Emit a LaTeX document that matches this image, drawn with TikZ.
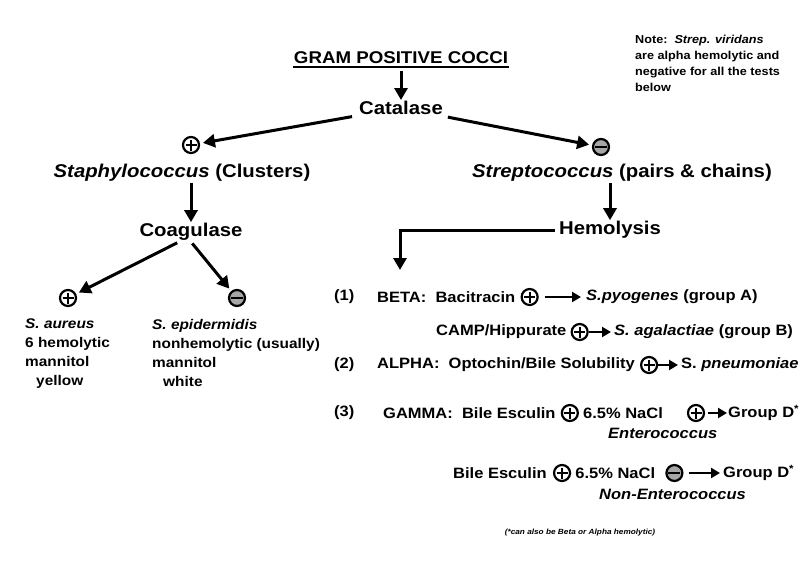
\documentclass[tikz,border=0pt]{standalone}
\usepackage{fontspec}
\setmainfont{Liberation Sans}[FakeStretch=1.1]
\usetikzlibrary{arrows.meta, positioning, calc}

\begin{document}
\begin{tikzpicture}[x=1pt,y=-1pt,
  bigtxt/.style={font=\bfseries\fontsize{18.5}{22}\selectfont,inner sep=1pt},
  midtxt/.style={font=\bfseries\fontsize{14}{19}\selectfont,inner sep=1pt},
  rowtxt/.style={font=\bfseries\fontsize{15}{19}\selectfont,inner sep=1pt,anchor=west},
  plusc/.style={circle,draw,line width=2.2pt,minimum size=16pt,inner sep=0pt,
    path picture={\draw[line width=1.8pt]
      ([xshift=-5.5pt]path picture bounding box.center) -- ([xshift=5.5pt]path picture bounding box.center)
      ([yshift=-5.5pt]path picture bounding box.center) -- ([yshift=5.5pt]path picture bounding box.center);}},
  minusc/.style={circle,draw,fill=black!35,line width=2.2pt,minimum size=16pt,inner sep=0pt,
    path picture={\draw[line width=2.8pt]
      ([xshift=-6pt]path picture bounding box.center) -- ([xshift=6pt]path picture bounding box.center);}},
  arr/.style={line width=3pt,-{Triangle[length=12pt,width=13pt]}},
  sarr/.style={line width=2.4pt,-{Triangle[length=9pt,width=10pt]}}]
  \useasboundingbox[fill=white] (0,0) rectangle (807,579);
  % top of the tree
  \node[bigtxt,font=\bfseries\fontsize{17}{20}\selectfont] (gpc) at (401,58) {GRAM POSITIVE COCCI};
  \draw[line width=1.8pt] ([yshift=-3.5pt]gpc.base west) -- ([yshift=-3.5pt]gpc.base east);
  \node[bigtxt] (cat) at (401,108) {Catalase};
  \draw[arr] ([yshift=-6pt]gpc.south) -- (cat.north);
  \node[plusc] (staphpos) at (191,145) {};
  \node[minusc] (streptneg) at (601,147) {};
  \draw[arr,shorten <=6pt,shorten >=3pt] (cat) -- (staphpos);
  \draw[arr,shorten <=6pt,shorten >=3pt] (cat) -- (streptneg);
  \node[bigtxt] (staph) at (182,173) {\textit{Staphylococcus} (Clusters)};
  \node[bigtxt] (strept) at (622,173) {\textit{Streptococcus} (pairs \& chains)};
  % left branch
  \node[bigtxt] (coag) at (191,232) {Coagulase};
  \draw[arr] (coag.north |- staph.south) -- (coag.north);
  \node[plusc] (aurpos) at (68,298) {};
  \node[minusc] (epineg) at (237,298) {};
  \draw[arr,shorten <=2pt,shorten >=3pt] ([xshift=-12pt]coag.south) -- (aurpos);
  \draw[arr,shorten <=2pt,shorten >=3pt] (coag.south) -- (epineg);
  \node[midtxt,anchor=north west,align=left] (aur) at (24,318)
    {\textit{S. aureus}\\6 hemolytic\\mannitol\\\hspace*{11pt}yellow};
  \node[midtxt,anchor=north west,align=left] (epi) at (151,318)
    {\textit{S. epidermidis}\\nonhemolytic (usually)\\mannitol\\\hspace*{11pt}white};
  % right branch
  \node[bigtxt] (hemo) at (610,230) {Hemolysis};
  \draw[arr] (hemo.north |- strept.south) -- (hemo.north);
  \coordinate (hbend) at (400,230);
  \coordinate (hend) at (400,270);
  \draw[arr,shorten <=3pt] (hemo.west) -- (hbend) -- (hend);
  % (1) beta
  \node[rowtxt] (n1) at (333,297) {(1)};
  \node[rowtxt] (beta) at (376,297) {BETA:\ \ Bacitracin};
  \node[plusc,right=4pt of beta] (bacpos) {};
  \node[rowtxt] (pyog) at (585,297) {\textit{S.pyogenes} (group A)};
  \draw[sarr,shorten <=6pt,shorten >=4pt] (bacpos) -- (pyog);
  \node[rowtxt] (camp) at (435,332) {CAMP/Hippurate};
  \node[plusc,right=3pt of camp] (camppos) {};
  \node[rowtxt] (agal) at (613,332) {\textit{S. agalactiae} (group B)};
  \draw[sarr,shorten >=2pt] (camppos) -- (agal);
  % (2) alpha
  \node[rowtxt] (n2) at (333,365) {(2)};
  \node[rowtxt] (alpha) at (376,365) {ALPHA:\ \ Optochin/Bile Solubility};
  \node[plusc,right=4pt of alpha] (optpos) {};
  \node[rowtxt] (pneu) at (680,365) {S. \textit{pneumoniae}};
  \draw[sarr,shorten >=2pt] (optpos) -- (pneu);
  % (3) gamma
  \node[rowtxt] (n3) at (333,413) {(3)};
  \node[rowtxt] (gamma) at (382,413) {GAMMA:\ \ Bile Esculin};
  \node[plusc,right=4pt of gamma] (bepos) {};
  \node[rowtxt,right=3pt of bepos] (nacl) {6.5\% NaCl};
  \node[plusc] (naclpos) at (696,413) {};
  \node[rowtxt] (grpd) at (727,413) {Group D\textsuperscript{*}};
  \draw[sarr,shorten <=3pt] (naclpos) -- (grpd);
  \node[rowtxt,font=\bfseries\itshape\fontsize{15}{19}\selectfont] (entero) at (607,433) {Enterococcus};
  \node[rowtxt] (be) at (452,473) {Bile Esculin};
  \node[plusc,right=5pt of be] (bepos2) {};
  \node[rowtxt,right=3pt of bepos2] (nacl2) {6.5\% NaCl};
  \node[minusc,right=9pt of nacl2] (naclneg) {};
  \node[rowtxt] (grpd2) at (722,473) {Group D\textsuperscript{*}};
  \draw[sarr,shorten <=5pt,shorten >=2pt] (naclneg) -- (grpd2);
  \node[rowtxt,font=\bfseries\itshape\fontsize{15}{19}\selectfont] (nonentero) at (598,494) {Non-Enterococcus};
  \node[font=\bfseries\itshape\fontsize{7.5}{9}\selectfont] (foot) at (580,533) {(*can also be Beta or Alpha hemolytic)};
  % note
  \node[anchor=north west,align=left,inner sep=0pt,font=\bfseries\fontsize{11.5}{16}\selectfont] (note) at (635,35)
    {Note:\ \ \textit{Strep. viridans}\\are alpha hemolytic and\\negative for all the tests\\below};
\end{tikzpicture}
\end{document}
